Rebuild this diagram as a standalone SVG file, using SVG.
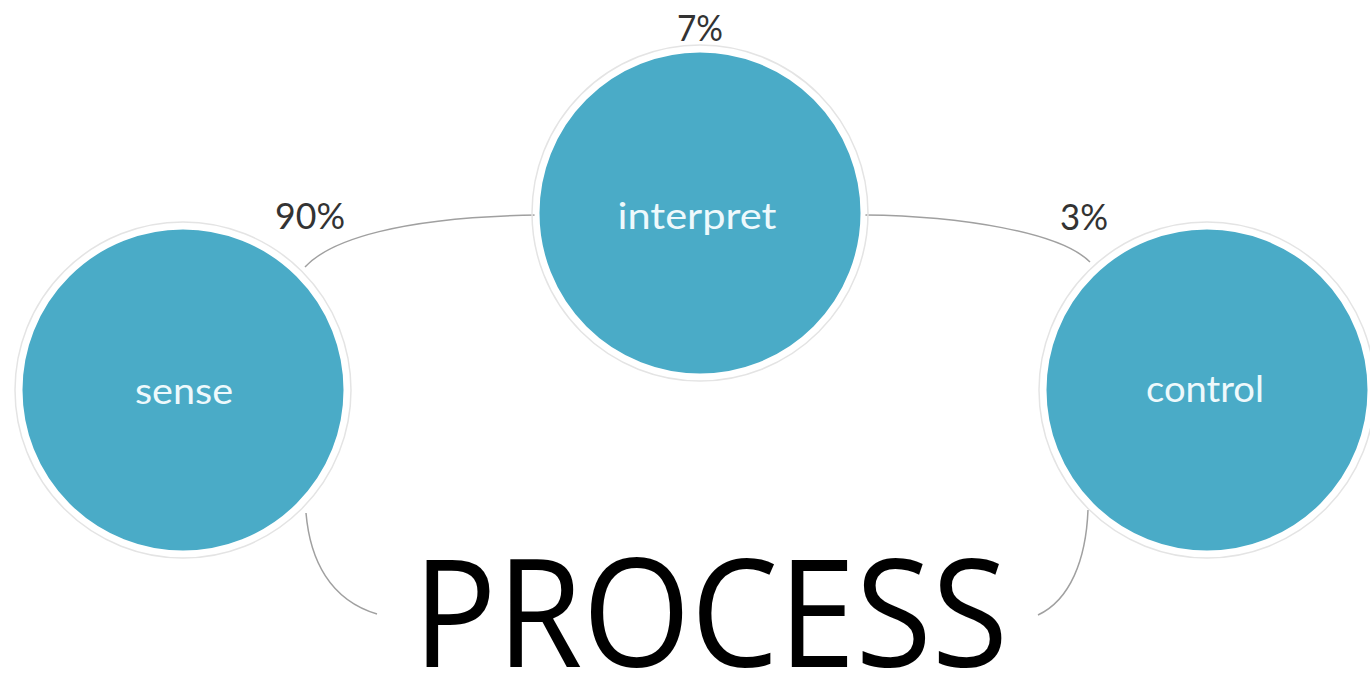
<svg xmlns="http://www.w3.org/2000/svg" width="1370" height="678" viewBox="0 0 1370 678">
<style>
.node circle.ring{fill:none;stroke:#e4e4e4;stroke-width:1.5}
.node circle.disc{fill:#4aabc7;stroke:#ffffff;stroke-width:5}
.node text{font-family:Lato,"Open Sans",sans-serif;font-size:36px;fill:#eef9fc;text-anchor:middle}
.pct{font-family:Lato,"Open Sans",sans-serif;font-size:36px;fill:#333333}
.conn path{fill:none;stroke:#a0a0a0;stroke-width:1.5}
.title{font-family:"Open Sans","Liberation Sans",sans-serif;font-size:150px;font-weight:500;fill:#000000}
</style>
<rect width="1370" height="678" fill="#ffffff"/>
<g id="connectors" class="conn">
<path d="M305 267 C330 240, 400 217, 538 215"/>
<path d="M865 215 C960 216, 1060 232, 1090 262"/>
<path d="M306 513 C310 560, 330 600, 377 614"/>
<path d="M1088 510 C1086 560, 1070 600, 1038 615"/>
</g>
<g id="node-sense" class="node">
<circle class="ring" cx="183" cy="390" r="168"/>
<circle class="disc" cx="183" cy="390" r="163"/>
<text x="184" y="404" textLength="98" lengthAdjust="spacingAndGlyphs">sense</text>
</g>
<g id="node-interpret" class="node">
<circle class="ring" cx="700" cy="213" r="168"/>
<circle class="disc" cx="700" cy="213" r="163"/>
<text x="697" y="229" textLength="159" lengthAdjust="spacingAndGlyphs">interpret</text>
</g>
<g id="node-control" class="node">
<circle class="ring" cx="1207" cy="390" r="168"/>
<circle class="disc" cx="1207" cy="390" r="163"/>
<text x="1205" y="402" textLength="118" lengthAdjust="spacingAndGlyphs">control</text>
</g>
<text class="pct" x="275" y="229" textLength="70" lengthAdjust="spacingAndGlyphs">90%</text>
<text class="pct" x="677" y="41" textLength="46" lengthAdjust="spacingAndGlyphs">7%</text>
<text class="pct" x="1060" y="230" textLength="48" lengthAdjust="spacingAndGlyphs">3%</text>
<text class="title" x="413" y="667" textLength="595" lengthAdjust="spacingAndGlyphs">PROCESS</text>
</svg>
